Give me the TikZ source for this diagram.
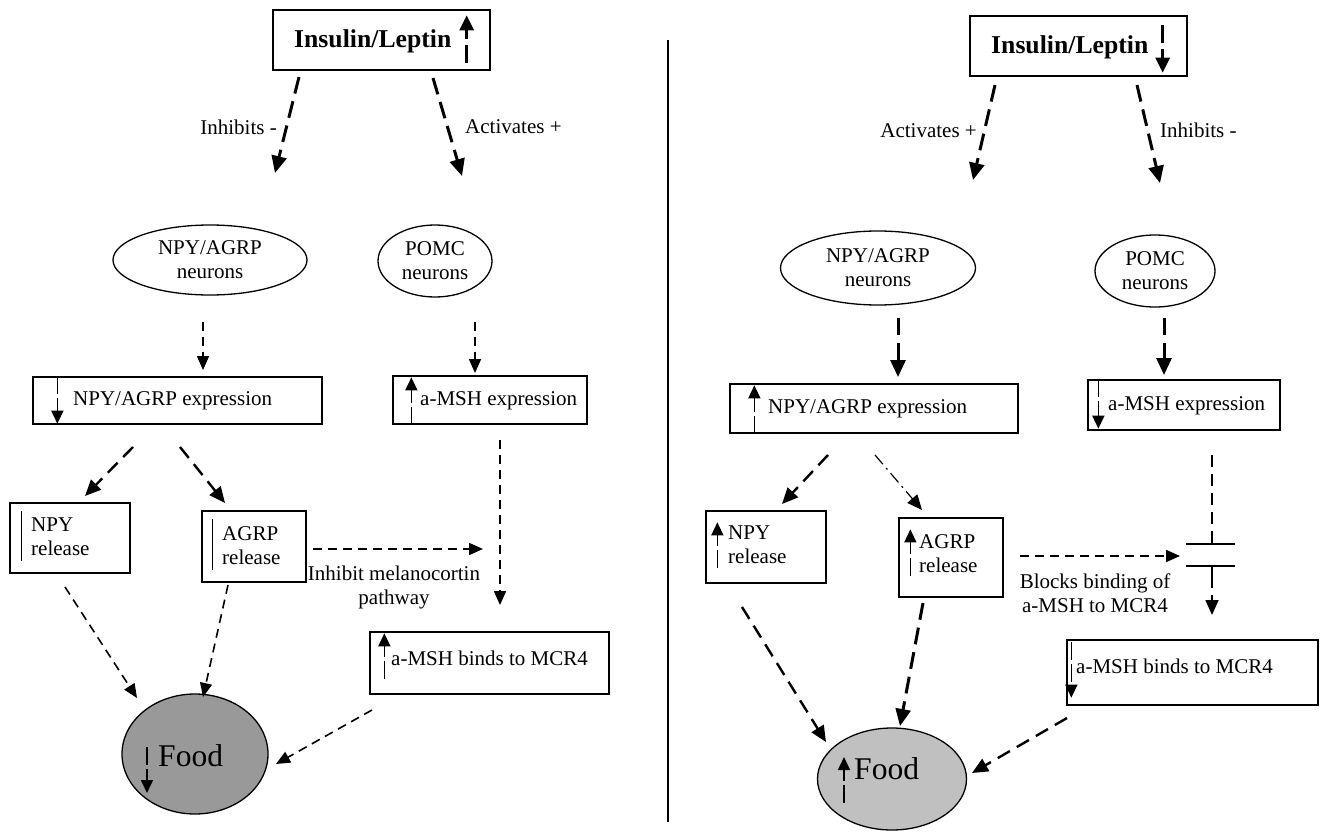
\documentclass[tikz,border=0pt]{standalone}
\usepackage{fontspec}
\setmainfont{Liberation Serif}
\usetikzlibrary{arrows.meta,shapes.geometric,calc}
\definecolor{fooddark}{HTML}{999999}
\definecolor{foodlight}{HTML}{C0C0C0}
\begin{document}
\begin{tikzpicture}[x=1pt,y=-1pt,
  every node/.style={font=\fontsize{21}{24}\selectfont},
  box/.style={draw, line width=1.3pt, inner sep=0pt},
  ell/.style={draw, ellipse, line width=1.3pt, inner sep=0pt, align=center},
  txt/.style={inner sep=0pt, align=left},
  boldtxt/.style={inner sep=0pt, font=\bfseries\fontsize{25.7}{28}\selectfont},
  foodtxt/.style={inner sep=0pt, font=\fontsize{31.6}{34}\selectfont},
  thk/.style={line width=3pt, dash pattern=on 17pt off 8pt, -{Triangle[length=17pt,width=15pt]}},
  mid/.style={line width=2.4pt, dash pattern=on 14pt off 8pt, -{Triangle[length=16pt,width=14pt]}},
  thn/.style={line width=1.6pt, dash pattern=on 9pt off 6pt, -{Triangle[length=14pt,width=12pt]}},
  dd/.style={line width=1.2pt, dash pattern=on 12pt off 5pt on 2pt off 5pt, -{Triangle[length=15pt,width=13pt]}},
  inar/.style={line width=1.6pt, dash pattern=on 18pt off 4pt, -{Triangle[length=13pt,width=12pt]}},
  inarthk/.style={line width=3pt, dash pattern=on 18pt off 6pt, -{Triangle[length=15pt,width=14pt]}},
  bar/.style={line width=1.6pt}
]
\useasboundingbox (0,0) rectangle (1338,832);

% ---------------- divider
\coordinate (divT) at (668,40);
\coordinate (divB) at (668,822);
\draw[line width=1.3pt] (divT) -- (divB);

% ================= LEFT PANEL =================
\node[box, minimum width=217pt, minimum height=60pt] (insL) at (381.5,40) {};
\node[boldtxt, anchor=west] (insLt) at (294,41) {Insulin/Leptin};
\draw[inarthk] ($(insL.south east)+(-24,-8)$) -- ($(insL.north east)+(-24,6)$);

\coordinate (aL1s) at (299,77);  \coordinate (aL1e) at (275,173);
\coordinate (aL2s) at (433,78);  \coordinate (aL2e) at (462,176);
\draw[thk] (aL1s) -- (aL1e);
\draw[thk] (aL2s) -- (aL2e);
\node[inner sep=0pt, anchor=east] (lblL1) at (277,127) {Inhibits -};
\node[inner sep=0pt, anchor=west] (lblL2) at (465,127) {Activates +};

\node[ell, minimum width=194pt, minimum height=70pt] (npyL) at (210,260) {NPY/AGRP\\neurons};
\node[ell, minimum width=114pt, minimum height=72pt] (pomcL) at (435,261) {POMC\\neurons};

\coordinate (aL3s) at (203,322); \coordinate (aL3e) at (203,370);
\coordinate (aL4s) at (475,322); \coordinate (aL4e) at (475,373);
\draw[thn] (aL3s) -- (aL3e);
\draw[thn] (aL4s) -- (aL4e);

\node[box, minimum width=289pt, minimum height=47pt] (exL) at (177.5,400.5) {};
\node[txt, anchor=west] (exLt) at (73,401) {NPY/AGRP expression};
\draw[inar] ($(exL.north west)+(25,0)$) -- ($(exL.south west)+(25,-1)$);

\node[box, minimum width=194pt, minimum height=48pt] (msL) at (490,400) {};
\node[txt, anchor=west] (msLt) at (420,401) {a-MSH expression};
\draw[inar] ($(msL.south west)+(19,0)$) -- ($(msL.north west)+(19,2)$);

\coordinate (aL5s) at (133,447); \coordinate (aL5e) at (85,496);
\coordinate (aL6s) at (180,447); \coordinate (aL6e) at (225,503);
\draw[mid] (aL5s) -- (aL5e);
\draw[mid] (aL6s) -- (aL6e);

\node[box, minimum width=120pt, minimum height=70pt] (nrL) at (70,538) {};
\node[txt, anchor=west] (nrLt) at (31,537) {NPY\\release};
\draw[bar] ($(nrL.north west)+(12,9)$) -- ($(nrL.south west)+(12,-13)$);

\node[box, minimum width=104pt, minimum height=71pt] (arL) at (254,546.5) {};
\node[txt, anchor=west] (arLt) at (222,546) {AGRP\\release};
\draw[bar] ($(arL.north west)+(11,9)$) -- ($(arL.south west)+(11,-13)$);

\coordinate (aL7s) at (313,549); \coordinate (aL7e) at (483,549);
\draw[thn] (aL7s) -- (aL7e);
\node[inner sep=0pt, align=center] (lblL3) at (394,587) {Inhibit melanocortin\\pathway};

\coordinate (aL8s) at (500,440); \coordinate (aL8e) at (500,605);
\draw[thn] (aL8s) -- (aL8e);

\node[box, minimum width=239pt, minimum height=62pt] (bdL) at (489.5,663) {};
\node[txt, anchor=west] (bdLt) at (391,658) {a-MSH binds to MCR4};
\draw[inar] ($(bdL.south west)+(15,-16)$) -- ($(bdL.north west)+(15,2)$);

\node[ell, fill=fooddark, minimum width=146pt, minimum height=120pt] (fdL) at (195,754) {};
\node[foodtxt, anchor=base west] (fdLt) at (158,766) {Food};
\draw[inar] (147,747) -- (147,793);

\coordinate (aL9s) at (65,587);   \coordinate (aL9e) at (137,698);
\coordinate (aL10s) at (228,585); \coordinate (aL10e) at (203,697);
\coordinate (aL11s) at (372,710); \coordinate (aL11e) at (276,764);
\draw[thn] (aL9s) -- (aL9e);
\draw[thn] (aL10s) -- (aL10e);
\draw[thn] (aL11s) -- (aL11e);

% ================= RIGHT PANEL =================
\node[box, minimum width=217pt, minimum height=60pt] (insR) at (1078.5,46) {};
\node[boldtxt, anchor=west] (insRt) at (991,47) {Insulin/Leptin};
\draw[inarthk] ($(insR.north east)+(-25,10)$) -- ($(insR.south east)+(-25,-4)$);

\coordinate (aR1s) at (995,85);  \coordinate (aR1e) at (973,180);
\coordinate (aR2s) at (1137,85); \coordinate (aR2e) at (1160,183);
\draw[thk] (aR1s) -- (aR1e);
\draw[thk] (aR2s) -- (aR2e);
\node[inner sep=0pt, anchor=east] (lblR1) at (977,131) {Activates +};
\node[inner sep=0pt, anchor=west] (lblR2) at (1160,130) {Inhibits -};

\node[ell, minimum width=195pt, minimum height=74pt] (npyR) at (878,268) {NPY/AGRP\\neurons};
\node[ell, minimum width=120pt, minimum height=72pt] (pomcR) at (1155,271) {POMC\\neurons};

\coordinate (aR3s) at (898,318);  \coordinate (aR3e) at (898,377);
\coordinate (aR4s) at (1164,318); \coordinate (aR4e) at (1164,375);
\draw[thk] (aR3s) -- (aR3e);
\draw[thk] (aR4s) -- (aR4e);

\node[box, minimum width=288pt, minimum height=49pt] (exR) at (874,408.5) {};
\node[txt, anchor=west] (exRt) at (768,409) {NPY/AGRP expression};
\draw[inar] ($(exR.south west)+(25,0)$) -- ($(exR.north west)+(25,2)$);

\node[box, minimum width=192pt, minimum height=50pt] (msR) at (1184,405) {};
\node[txt, anchor=west] (msRt) at (1108,406) {a-MSH expression};
\draw[inar] ($(msR.north west)+(11,0)$) -- ($(msR.south west)+(11,-2)$);

\coordinate (aR5s) at (828,455); \coordinate (aR5e) at (782,504);
\coordinate (aR6s) at (875,455); \coordinate (aR6e) at (922,510);
\draw[mid] (aR5s) -- (aR5e);
\draw[dd] (aR6s) -- (aR6e);

\node[box, minimum width=120pt, minimum height=72pt] (nrR) at (766,547) {};
\node[txt, anchor=west] (nrRt) at (728,545) {NPY\\release};
\draw[inar] ($(nrR.south west)+(12,-16)$) -- ($(nrR.north west)+(12,12)$);

\node[box, minimum width=104pt, minimum height=79pt] (arR) at (951,557.5) {};
\node[txt, anchor=west] (arRt) at (919,554) {AGRP\\release};
\draw[inar] ($(arR.south west)+(12,-22)$) -- ($(arR.north west)+(12,12)$);

\coordinate (aR7s) at (1020,556); \coordinate (aR7e) at (1180,556);
\draw[thn] (aR7s) -- (aR7e);
\node[inner sep=0pt, align=center] (lblR3) at (1095,593) {Blocks binding of\\a-MSH to MCR4};

\coordinate (blkT) at (1212,544);
\coordinate (blkB) at (1212,566);
\coordinate (aR8s) at (1212,455);
\coordinate (aR8e) at (1212,615);
\draw[bar] ($(blkT)+(-26,0)$) -- ($(blkT)+(23,0)$);
\draw[bar] ($(blkB)+(-26,0)$) -- ($(blkB)+(23,0)$);
\draw[line width=1.6pt, dash pattern=on 12pt off 7pt] (aR8s) -- (blkT);
\draw[line width=1.6pt, dash pattern=on 22pt off 7pt, -{Triangle[length=15pt,width=13pt]}] (blkB) -- (aR8e);

\node[box, minimum width=251pt, minimum height=65pt] (bdR) at (1192.5,672.5) {};
\node[txt, anchor=west] (bdRt) at (1076,666) {a-MSH binds to MCR4};
\draw[inar] ($(bdR.north west)+(5,3)$) -- ($(bdR.south west)+(5,-8)$);

\node[ell, fill=foodlight, minimum width=149pt, minimum height=102pt] (fdR) at (892,779) {};
\node[foodtxt, anchor=base west] (fdRt) at (854,779) {Food};
\draw[inar] (844,803) -- (844,757);

\coordinate (aR9s) at (742,607);   \coordinate (aR9e) at (826,742);
\coordinate (aR10s) at (923,603);  \coordinate (aR10e) at (900,726);
\coordinate (aR11s) at (1067,718); \coordinate (aR11e) at (972,773);
\draw[mid] (aR9s) -- (aR9e);
\draw[thk] (aR10s) -- (aR10e);
\draw[mid] (aR11s) -- (aR11e);
\end{tikzpicture}
\end{document}
